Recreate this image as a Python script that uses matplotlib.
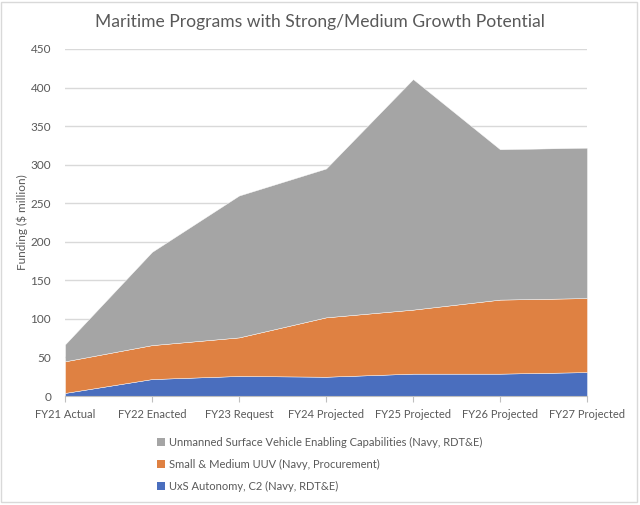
import numpy as np
import matplotlib.pyplot as plt
from matplotlib.patches import Patch, Rectangle

years = ['FY21 Actual', 'FY22 Enacted', 'FY23 Request', 'FY24 Projected',
         'FY25 Projected', 'FY26 Projected', 'FY27 Projected']
uxs_autonomy = [4, 22, 26, 25, 29, 29, 31]
small_medium_uuv = [41, 44, 50, 77, 83, 96, 96]
usv_enabling = [22, 121, 184, 193, 299, 195, 195]

series_names = ['UxS Autonomy, C2 (Navy, RDT&E)',
                'Small & Medium UUV (Navy, Procurement)',
                'Unmanned Surface Vehicle Enabling Capabilities (Navy, RDT&E)']
colors = ['#4a6ebe', '#df8142', '#a5a5a5']

plt.rcParams['font.family'] = ['Lato', 'DejaVu Sans']
text_col = '#595959'

fig = plt.figure(figsize=(6.4, 5.05), dpi=100)
ax = fig.add_axes([0.1016, 0.2158, 0.8156, 0.6872])

x = np.arange(len(years))
ax.stackplot(x, uxs_autonomy, small_medium_uuv, usv_enabling, colors=colors,
             edgecolor='white', linewidth=0.3, zorder=2)

ax.set_xlim(0, len(years) - 1)
ax.set_ylim(0, 450)
ax.set_yticks(np.arange(0, 451, 50))
ax.set_xticks(x)
ax.set_xticklabels(years)
ax.tick_params(axis='y', length=0, labelsize=8.5, colors=text_col, pad=10)
ax.tick_params(axis='x', length=4, color='#bfbfbf', labelsize=8, colors=text_col, pad=5)
ax.grid(axis='y', color='#d9d9d9', linewidth=1, zorder=0)
for s in ['top', 'right', 'left']:
    ax.spines[s].set_visible(False)
ax.spines['bottom'].set_color('#bfbfbf')
ax.set_ylabel('Funding ($ million)', fontsize=8.5, color=text_col, labelpad=2)

fig.suptitle('Maritime Programs with Strong/Medium Growth Potential',
             fontsize=12.6, color=text_col, y=0.972)

handles = [Patch(facecolor=colors[i], label=series_names[i]) for i in [2, 1, 0]]
fig.legend(handles=handles, loc='upper left', bbox_to_anchor=(0.23, 0.155),
           frameon=False, fontsize=8, labelcolor=text_col, handlelength=0.7,
           handleheight=0.7, handletextpad=0.4, labelspacing=1.0)

fig.patches.append(Rectangle((0.002, 0.006), 0.994, 0.99, transform=fig.transFigure,
                             fill=False, edgecolor='#d9d9d9', linewidth=1))

fig.savefig('out.png', dpi=100)
